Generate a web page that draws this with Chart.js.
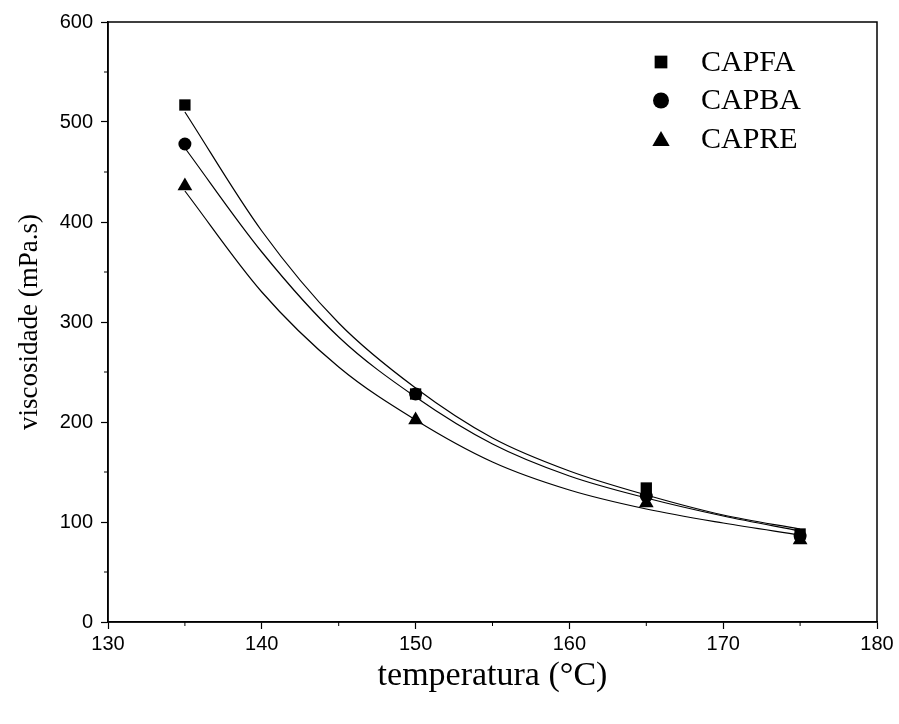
<!DOCTYPE html>
<html>
<head>
<meta charset="utf-8">
<script src="https://cdn.jsdelivr.net/npm/chart.js@4.4.0/dist/chart.umd.min.js"></script>
<style>
  html, body { margin: 0; padding: 0; background: #fff; }
  #wrap { width: 899px; height: 724px; }
</style>
</head>
<body>
<div id="wrap"><canvas id="viscChart" width="899" height="724"></canvas></div>
<script>
// temperaturas medidas (°C)
const temperaturas = [135, 150, 165, 175];
// viscosidade medida (mPa.s)
const capfa = [517, 228, 134, 88];
const capba = [478, 228, 126, 86];
const capre = [436, 202, 119, 82];

// curvas de ajuste
const tempAjuste = [135, 140, 145, 150, 155, 160, 165, 170, 175];
const ajusteCapfa = [510, 391, 299, 234, 184, 151, 127, 107, 93];
const ajusteCapba = [474, 370, 285, 225, 178, 146, 124, 106, 91];
const ajusteCapre = [431, 330, 255, 202, 160, 132, 113, 99, 87];

const xTicks = [130, 140, 150, 160, 170, 180];
const yTicks = [0, 100, 200, 300, 400, 500, 600];
const xMinor = [135, 145, 155, 165, 175];
const yMinor = [50, 150, 250, 350, 450, 550];

const nomes = ['CAPFA', 'CAPBA', 'CAPRE'];
const simbolos = ['rect', 'circle', 'triangle'];
const raios = [8, 6.5, 8.5];
const raiosLegenda = [9, 8, 10];

const pontos = (xs, ys) => xs.map((v, i) => ({ x: v, y: ys[i] }));

const medidas = [capfa, capba, capre];
const ajustes = [ajusteCapfa, ajusteCapba, ajusteCapre];

let datasets = [];
medidas.forEach((serie, i) => {
    datasets.push({
        label: nomes[i],
        data: pontos(temperaturas, serie),
        showLine: false,
        pointStyle: simbolos[i],
        pointRadius: raios[i],
        pointBackgroundColor: '#000',
        pointBorderColor: '#000',
        pointBorderWidth: 0,
        order: 3 - i
    });
});
ajustes.forEach((serie, i) => {
    datasets.push({
        label: 'ajuste ' + nomes[i],
        data: pontos(tempAjuste, serie),
        borderColor: '#000',
        borderWidth: 1.2,
        pointRadius: 0,
        cubicInterpolationMode: 'monotone',
        fill: false,
        order: 4
    });
});

// moldura, ticks menores e legenda
const molduraPlugin = {
    id: 'moldura',
    afterDraw(chart) {
        const { ctx, chartArea: a, scales: { x, y } } = chart;
        ctx.save();
        ctx.strokeStyle = '#000';
        ctx.lineWidth = 1.5;
        ctx.strokeRect(a.left, a.top, a.right - a.left, a.bottom - a.top);

        ctx.lineWidth = 1;
        ctx.beginPath();
        xMinor.forEach(v => {
            const px = x.getPixelForValue(v);
            ctx.moveTo(px, a.bottom);
            ctx.lineTo(px, a.bottom + 4);
        });
        yMinor.forEach(v => {
            const py = y.getPixelForValue(v);
            ctx.moveTo(a.left, py);
            ctx.lineTo(a.left - 4, py);
        });
        ctx.stroke();

        // legenda
        ctx.fillStyle = '#000';
        ctx.font = '30px "Liberation Serif"';
        ctx.textBaseline = 'middle';
        nomes.forEach((nome, i) => {
            const ly = 62 + i * 38.5;
            Chart.helpers.drawPoint(ctx, {
                pointStyle: simbolos[i],
                radius: raiosLegenda[i],
                rotation: 0,
                borderWidth: 0
            }, 661, ly + (i === 2 ? 2 : 0));
            ctx.fillText(nome, 701, ly + 1);
        });
        ctx.restore();
    }
};

const tickFont = { family: '"Liberation Sans"', size: 20 };

new Chart(document.getElementById('viscChart').getContext('2d'), {
    type: 'line',
    data: { datasets: datasets },
    plugins: [molduraPlugin],
    options: {
        responsive: false,
        animation: false,
        layout: { padding: { top: 22, right: 22, left: 0, bottom: 0 } },
        plugins: {
            legend: { display: false },
            tooltip: { enabled: false }
        },
        scales: {
            x: {
                type: 'linear',
                min: 130,
                max: 180,
                afterBuildTicks: s => { s.ticks = xTicks.map(v => ({ value: v })); },
                afterFit: s => { s.height = 102; },
                ticks: { font: tickFont, color: '#000', padding: 3, maxRotation: 0 },
                grid: { drawOnChartArea: false, tickLength: 7, color: '#000', tickWidth: 1.2 },
                border: { color: '#000', width: 1.5 },
                title: {
                    display: true,
                    text: 'temperatura (°C)',
                    color: '#000',
                    font: { family: '"Liberation Serif"', size: 34 },
                    padding: { top: 0, bottom: 28 }
                }
            },
            y: {
                min: 0,
                max: 600,
                afterBuildTicks: s => { s.ticks = yTicks.map(v => ({ value: v })); },
                afterFit: s => { s.width = 108; },
                ticks: { font: tickFont, color: '#000', padding: 8 },
                grid: { drawOnChartArea: false, tickLength: 7, color: '#000', tickWidth: 1.2 },
                border: { color: '#000', width: 1.5 },
                title: {
                    display: true,
                    text: 'viscosidade (mPa.s)',
                    color: '#000',
                    font: { family: '"Liberation Serif"', size: 27 },
                    padding: { top: 14, bottom: 0 }
                }
            }
        }
    }
});
</script>
</body>
</html>
